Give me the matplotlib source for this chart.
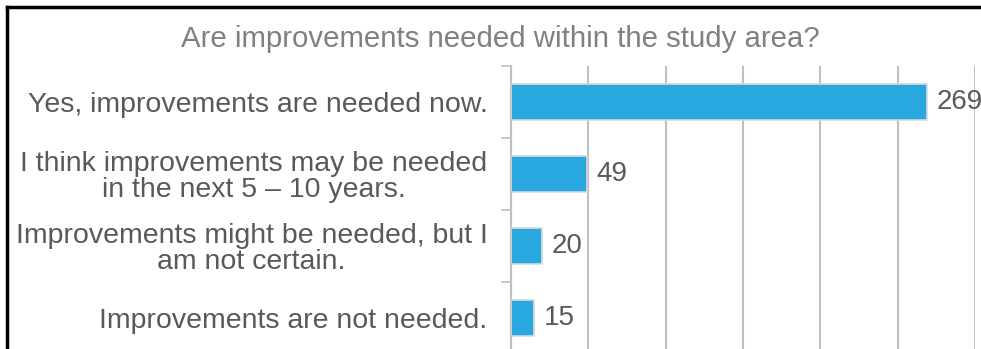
import matplotlib
matplotlib.use("Agg")
import matplotlib.pyplot as plt
from matplotlib.lines import Line2D

categories = [
    "Yes, improvements are needed now.",
    "I think improvements may be needed\nin the next 5 \u2013 10 years.",
    "Improvements might be needed, but I\nam not certain.",
    "Improvements are not needed.",
]
counts = [269, 49, 20, 15]
x_ticks = [0, 50, 100, 150, 200, 250, 300]

W, H = 981, 349
plt.rcParams['font.family'] = ['Liberation Sans', 'DejaVu Sans']

fig = plt.figure(figsize=(W / 100, H / 100), dpi=100)
ax = fig.add_axes([511 / W, (H - 354) / H, 464 / W, 288 / H])

ypos = list(range(len(categories)))
bars = ax.barh(ypos, counts, height=0.5, color='#29A8E0',
               edgecolor='#D9D9D9', linewidth=1.2, zorder=3)
for b, v in zip(bars, counts):
    ax.text(b.get_width() + 6, b.get_y() + b.get_height() / 2, str(v),
            va='center', ha='left', fontsize=20, color='#595959', zorder=4)

ax.set_xlim(0, 300)
ax.set_ylim(len(categories) - 0.5, -0.5)
ax.set_xticks(x_ticks)
ax.xaxis.grid(True, color='#BFBFBF', linewidth=1.5, zorder=0)
ax.tick_params(axis='x', length=0, labelbottom=False)

ax.set_yticks(ypos)
ax.set_yticklabels(categories, fontsize=20.5, color='#595959',
                   multialignment='center', linespacing=1.0)
ax.set_yticks([i - 0.5 for i in range(len(categories) + 1)], minor=True)
ax.tick_params(axis='y', which='major', length=0, pad=17)
ax.tick_params(axis='y', which='minor', length=7, width=1.2, color='#BFBFBF')

for s in ['top', 'right', 'bottom']:
    ax.spines[s].set_visible(False)
ax.spines['left'].set_color('#BFBFBF')
ax.spines['left'].set_linewidth(1.5)

fig.text(500 / W, 1 - 39 / H, "Are improvements needed within the study area?",
         ha='center', va='center', fontsize=21.2, color='#808080')

# outer frame, left and top edges only
fig.add_artist(Line2D([7 / W, 7 / W], [0, 1 - 7 / H], color='black',
                      linewidth=2.5, transform=fig.transFigure))
fig.add_artist(Line2D([7 / W, 1], [1 - 7 / H, 1 - 7 / H], color='black',
                      linewidth=2.5, transform=fig.transFigure))

fig.savefig("out.png", dpi=100)
